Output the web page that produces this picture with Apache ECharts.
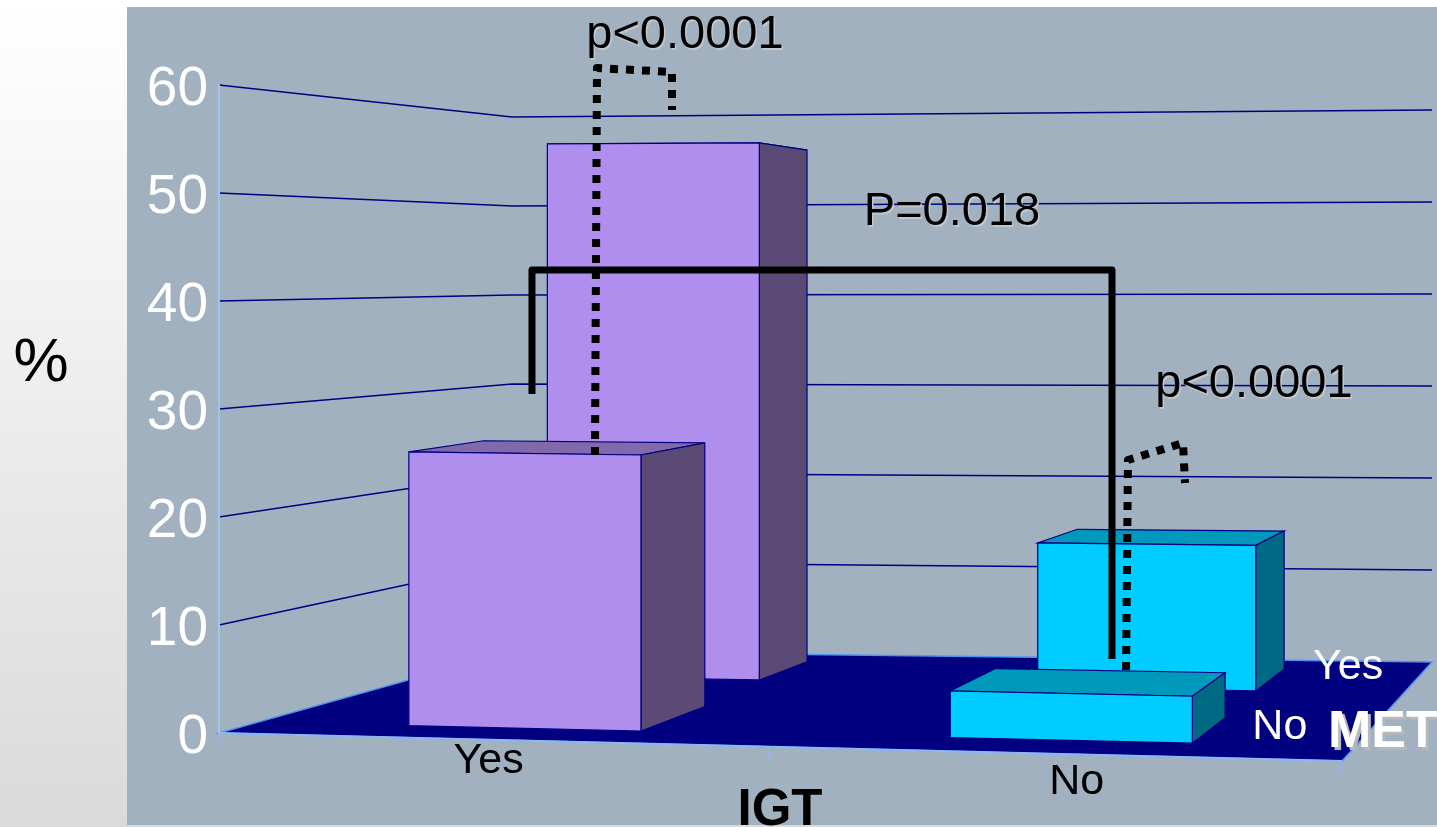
<!DOCTYPE html>
<html>
<head>
<meta charset="utf-8">
<style>html,body{margin:0;padding:0;background:#fff}#chart{width:1437px;height:827px}</style>
<script src="https://cdn.jsdelivr.net/npm/echarts@6/dist/echarts.min.js"></script>
</head>
<body>
<div id="chart"></div>
<script>
// Prevalence (%) by IGT status (front axis) and MET status (depth axis).
const igtCategories = ['Yes', 'No'];
const metCategories = ['No', 'Yes'];
const valuesIgtYes = [25.7, 55.6];   // MET No, MET Yes
const valuesIgtNo = [4.3, 14.7];     // MET No, MET Yes
const wallTicks = [10, 20, 30, 40, 50, 60];
const pValueTexts = ['p<0.0001', 'P=0.018', 'p<0.0001'];

// Comparison brackets in axis units [igt position, percent].
const bracketIgt = [[0.2787, 31.4], [0.2787, 42.87], [0.7952, 42.87], [0.7952, 6.85]];
const bracketMetYes = [[0.3348, 25.74], [0.3366, 61.57], [0.4034, 61.2], [0.4034, 57.69]];
const bracketMetNo = [[0.8077, 5.83], [0.8094, 25.28], [0.8584, 26.85], [0.8602, 23.15]];
const pValueAnchors = [[0.4149, 64.6], [0.6527, 48.2], [0.9216, 32.3]];

// Footprint of each bar on the floor plane as [u0, u1, v0, v1], by IGT then MET.
const footprints = [
  [[0.157, 0.385, 0.11, 0.36], [0.138, 0.37, 0.665, 0.90]],
  [[0.6655, 0.870, 0.115, 0.35], [0.66, 0.8665, 0.63, 0.89]]
];

// Floor perspective, relative to the axis origin and the axis right end.
const frontDrop = 28, backLeftOffset = [293, -82], backRightOffset = [1213, -71];
const heightRatio = { fl: 1, fr: 1.037, bl: 0.824, br: 0.852 };

const FONT = '"Liberation Sans", Arial, sans-serif';
const NAVY = '#000080';
const PURPLE = { front: '#B08EEE', side: '#5A4A75', top: '#8269AB' };
const CYAN = { front: '#00CCFF', side: '#006A85', top: '#0099BB' };

function makeProjector(api) {
  const A = api.coord([0, 0]), T = api.coord([0, 60]), E = api.coord([1, 0]);
  const B = [E[0], E[1] + frontDrop];
  const C = [A[0] + backRightOffset[0], A[1] + backRightOffset[1]];
  const D = [A[0] + backLeftOffset[0], A[1] + backLeftOffset[1]];
  const dx1 = B[0] - C[0], dy1 = B[1] - C[1], dx2 = D[0] - C[0], dy2 = D[1] - C[1];
  const sx = A[0] - B[0] + C[0] - D[0], sy = A[1] - B[1] + C[1] - D[1];
  const det = dx1 * dy2 - dy1 * dx2;
  const g = (sx * dy2 - sy * dx2) / det, h = (dx1 * sy - dy1 * sx) / det;
  const a = B[0] - A[0] + g * B[0], b = D[0] - A[0] + h * D[0];
  const d = B[1] - A[1] + g * B[1], e = D[1] - A[1] + h * D[1];
  const unit = (A[1] - T[1]) / 60;
  return function (u, v, value) {
    const w = 1 + g * u + h * v;
    const r = (1 - v) * ((1 - u) * heightRatio.fl + u * heightRatio.fr) +
              v * ((1 - u) * heightRatio.bl + u * heightRatio.br);
    return [(a * u + b * v + A[0]) / w, (d * u + e * v + A[1]) / w - unit * r * value];
  };
}

function face(points, fill) {
  return { type: 'polygon', shape: { points: points }, style: { fill: fill, stroke: NAVY, lineWidth: 1.2 } };
}

function renderBar(params, api) {
  const P = makeProjector(api);
  const i = api.value(0), j = api.value(1), value = api.value(2);
  const [u0, u1, v0, v1] = footprints[i][j];
  const colors = i === 0 ? PURPLE : CYAN;
  return { type: 'group', children: [
    face([P(u0, v0, value), P(u1, v0, value), P(u1, v1, value), P(u0, v1, value)], colors.top),
    face([P(u1, v0, 0), P(u1, v1, 0), P(u1, v1, value), P(u1, v0, value)], colors.side),
    face([P(u0, v0, 0), P(u1, v0, 0), P(u1, v0, value), P(u0, v0, value)], colors.front)
  ] };
}

function renderWallLine(params, api) {
  const P = makeProjector(api), value = api.value(0);
  return { type: 'polyline', shape: { points: [P(0, 0, value), P(0, 1, value), P(1, 1, value)] },
    style: { fill: 'none', stroke: NAVY, lineWidth: 1.5 } };
}

function renderFloor(params, api) {
  const P = makeProjector(api);
  const edge = '#8DB8F2';
  const stub = (u) => ({ type: 'line',
    shape: { x1: P(u, 0, 0)[0], y1: P(u, 0, 0)[1], x2: P(u, 0, -1.1)[0], y2: P(u, 0, -1.1)[1] },
    style: { stroke: edge, lineWidth: 1.5 } });
  return { type: 'group', children: [
    { type: 'polygon', shape: { points: [P(0, 0, 0), P(1, 0, 0), P(1, 1, 0), P(0, 1, 0)] },
      style: { fill: NAVY, stroke: '#4F92F0', lineWidth: 1.5 } },
    { type: 'line', shape: { x1: P(0, 0, 0)[0], y1: P(0, 0, 0)[1], x2: P(1, 0, 0)[0], y2: P(1, 0, 0)[1] },
      style: { stroke: edge, lineWidth: 2 } },
    stub(0), stub(0.529), stub(1)
  ] };
}

// Category names sit on or just below the floor, so they follow the projection.
const igtLabelAnchors = [[0.27, 0, -2], [0.791, 0, -2.5]];
const metLabelAnchors = [[0.923, 0.29, -0.2], [0.923, 0.95, -0.2]];

function renderCategoryLabel(params, api) {
  const P = makeProjector(api), idx = params.dataIndex;
  const isIgt = idx < igtCategories.length;
  const k = isIgt ? idx : idx - igtCategories.length;
  const anchor = isIgt ? igtLabelAnchors[k] : metLabelAnchors[k];
  const pos = P(anchor[0], anchor[1], anchor[2]);
  return { type: 'text', style: {
    text: isIgt ? igtCategories[k] : metCategories[k], x: pos[0], y: pos[1],
    fill: isIgt ? '#000' : '#fff', fontFamily: FONT, fontSize: 43, align: 'center', verticalAlign: 'middle' } };
}

function renderPValue(params, api) {
  const pos = api.coord([api.value(0), api.value(1)]);
  return { type: 'text', style: {
    text: pValueTexts[params.dataIndex], x: pos[0], y: pos[1], fill: '#000', fontFamily: FONT, fontSize: 47,
    align: 'center', verticalAlign: 'middle',
    textShadowColor: '#C3C7CC', textShadowOffsetX: 1.5, textShadowOffsetY: 1.5, textShadowBlur: 0.5 } };
}

function bracket(data, width, dash) {
  return { type: 'line', data: data, clip: false, silent: true, showSymbol: false, symbol: 'none', z: 6,
    lineStyle: { color: '#000', width: width, type: dash, join: 'round', cap: 'butt' } };
}

const chart = echarts.init(document.getElementById('chart'));
chart.setOption({
  animation: false,
  backgroundColor: { type: 'linear', x: 0, y: 0, x2: 0, y2: 1,
    colorStops: [{ offset: 0, color: '#FFFFFF' }, { offset: 1, color: '#DADADA' }] },
  graphic: [
    { type: 'rect', z: 0, shape: { x: 127, y: 7, width: 1310, height: 818 }, style: { fill: '#A1B1C0' } },
    { type: 'text', z: 9, style: { text: '%', x: 41, y: 364, fill: '#000', font: '62px ' + FONT, align: 'center', verticalAlign: 'middle' } },
    { type: 'text', z: 9, style: { text: 'IGT', x: 780, y: 811, fill: '#000', font: 'bold 51px ' + FONT, align: 'center', verticalAlign: 'middle' } },
    { type: 'text', z: 9, style: { text: 'MET', x: 1328, y: 733, fill: '#fff', font: 'bold 52px ' + FONT, align: 'left', verticalAlign: 'middle',
      textShadowColor: '#B5B8BC', textShadowOffsetX: 3, textShadowOffsetY: 3, textShadowBlur: 0.5 } }
  ],
  grid: { left: 219, right: 95, top: 85, bottom: 94 },
  xAxis: { type: 'value', min: 0, max: 1, show: false },
  yAxis: { type: 'value', min: 0, max: 60, interval: 10, z: 3,
    axisLine: { show: true, lineStyle: { color: '#9EC4EF', width: 2 } },
    axisTick: { show: false }, splitLine: { show: false },
    axisLabel: { color: '#fff', fontFamily: FONT, fontSize: 55, margin: 11, verticalAlign: 'top', lineHeight: 9 } },
  series: [
    { type: 'custom', z: 2, silent: true, renderItem: renderWallLine, data: wallTicks.map(t => [t]), encode: { y: 0 } },
    { type: 'custom', z: 3, silent: true, renderItem: renderFloor, data: [[0, 0]] },
    { type: 'custom', z: 4, silent: true, renderItem: renderBar, encode: { x: 0, y: 2 },
      data: [[0, 1, valuesIgtYes[1]], [1, 1, valuesIgtNo[1]], [0, 0, valuesIgtYes[0]], [1, 0, valuesIgtNo[0]]] },
    { type: 'custom', z: 5, silent: true, renderItem: renderCategoryLabel,
      data: igtCategories.concat(metCategories).map((c, i) => [i, c]), encode: { x: 0 } },
    bracket(bracketIgt, 7, 'solid'),
    bracket(bracketMetYes, 8, [8, 8]),
    bracket(bracketMetNo, 8, [8, 8]),
    { type: 'custom', z: 7, silent: true, renderItem: renderPValue, data: pValueAnchors }
  ]
});
</script>
</body>
</html>
